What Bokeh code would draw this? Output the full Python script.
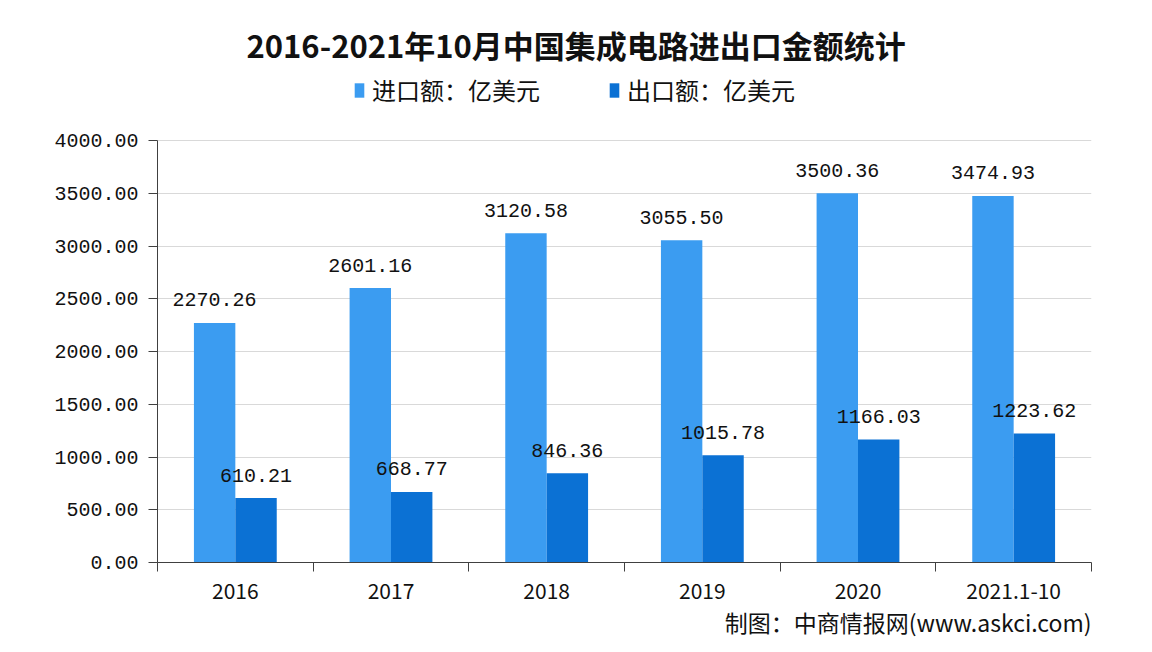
from bokeh.plotting import figure
from bokeh.models import (ColumnDataSource, Range1d, FixedTicker, NumeralTickFormatter,
                          LabelSet, Legend, LegendItem, Title)
from bokeh.core.properties import value
from bokeh.transform import dodge
from bokeh.embed import file_html
from bokeh.resources import INLINE

# ---- data ----
categories = ["2016", "2017", "2018", "2019", "2020", "2021.1-10"]
imports = [2270.26, 2601.16, 3120.58, 3055.50, 3500.36, 3474.93]
exports = [610.21, 668.77, 846.36, 1015.78, 1166.03, 1223.62]
y_ticks = [0, 500, 1000, 1500, 2000, 2500, 3000, 3500, 4000]
series_names = ["进口额：亿美元", "出口额：亿美元"]
title_text = "2016-2021年10月中国集成电路进出口金额统计"
footer_text = "制图：中商情报网(www.askci.com)"

positions = list(range(len(categories)))
source = ColumnDataSource(dict(
    x=positions,
    imp=imports,
    exp=exports,
    imp_lbl=["%.2f" % v for v in imports],
    exp_lbl=["%.2f" % v for v in exports],
))

IMP_COLOR = "#3b9cf1"
EXP_COLOR = "#0b71d4"
AXIS_COLOR = "#404040"
CJK = "Noto Sans CJK SC"
MONO = "Liberation Mono"

# frame extends above the 4000 gridline to hold the legend; the axis is bounded to 0..4000
TOP_PX = 70                      # frame top (px from canvas top)
PX_PER_UNIT = 422 / 4000         # 0..4000 spans 422 px
y_end = 4000 + (140 - TOP_PX) / PX_PER_UNIT

p = figure(width=1144, height=644, output_backend="svg", toolbar_location=None,
           x_range=Range1d(-0.5, len(categories) - 0.5), y_range=Range1d(0, y_end),
           min_border_left=157, min_border_right=53, min_border_top=TOP_PX, min_border_bottom=82)
p.outline_line_color = None
p.background_fill_color = "white"
p.border_fill_color = "white"

bw = 0.266
r_imp = p.vbar(x=dodge("x", -bw / 2, range=p.x_range), top="imp", width=bw, source=source,
               fill_color=IMP_COLOR, line_color=None)
r_exp = p.vbar(x=dodge("x", bw / 2, range=p.x_range), top="exp", width=bw, source=source,
               fill_color=EXP_COLOR, line_color=None)

for col, lbl, off in (("imp", "imp_lbl", -bw / 2), ("exp", "exp_lbl", bw / 2)):
    ls = LabelSet(x=dodge("x", off, range=p.x_range), y=col, text=lbl, source=source,
                  text_align="center", text_baseline="middle", y_offset=23,
                  text_font=value(MONO), text_font_size=value("20px"), text_color="#111111")
    p.add_layout(ls)

# x axis
xa = p.xaxis[0]
xa.ticker = FixedTicker(ticks=positions, minor_ticks=[i - 0.5 for i in range(len(categories) + 1)])
xa.major_label_overrides = {i: c for i, c in enumerate(categories)}
xa.major_tick_out = 0
xa.major_tick_in = 0
xa.minor_tick_out = 9
xa.minor_tick_in = 0
xa.minor_tick_line_color = AXIS_COLOR
xa.axis_line_color = AXIS_COLOR
xa.major_label_standoff = 11
xa.major_label_text_font = CJK
xa.major_label_text_font_size = "21px"
xa.major_label_text_color = "#111111"

# y axis
ya = p.yaxis[0]
ya.ticker = FixedTicker(ticks=y_ticks)
ya.bounds = (0, 4000)
ya.formatter = NumeralTickFormatter(format="0.00")
ya.major_tick_out = 9
ya.major_tick_in = 0
ya.minor_tick_line_color = None
ya.axis_line_color = AXIS_COLOR
ya.major_tick_line_color = AXIS_COLOR
ya.major_label_standoff = 10
ya.major_label_text_font = MONO
ya.major_label_text_font_size = "20px"
ya.major_label_text_color = "#111111"

p.xgrid.grid_line_color = None
p.ygrid.grid_line_color = "#d9d9d9"
p.ygrid.ticker = FixedTicker(ticks=y_ticks)

# legend (inside the frame's upper margin)
legend = Legend(items=[LegendItem(label=series_names[0], renderers=[r_imp]),
                       LegendItem(label=series_names[1], renderers=[r_exp])],
                orientation="horizontal", location=(196, 455),
                glyph_width=12, glyph_height=18, label_standoff=7, spacing=68,
                padding=0, margin=0, border_line_color=None, background_fill_alpha=0,
                label_text_font=CJK, label_text_font_size="24px", label_text_color="#111111")
p.add_layout(legend, "center")

# title
p.title = Title(text=title_text, align="left", offset=89, standoff=8,
                text_font=CJK, text_font_size="31px", text_font_style="bold",
                text_color="#111111")

# footer
p.add_layout(Title(text=footer_text, align="right", standoff=3,
                   text_font=CJK, text_font_size="23px", text_font_style="normal",
                   text_color="#111111"), "below")

open("out.html", "w").write(file_html(p, INLINE))
